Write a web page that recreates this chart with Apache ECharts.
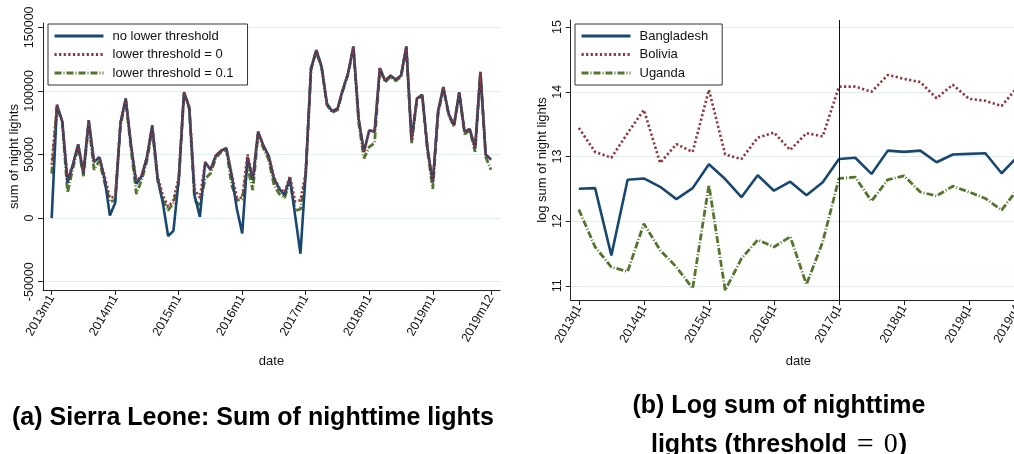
<!DOCTYPE html>
<html>
<head>
<meta charset="utf-8">
<title>nighttime lights</title>
<script src="https://cdn.jsdelivr.net/npm/echarts@6/dist/echarts.min.js"></script>
<style>
html,body{margin:0;padding:0;background:#fff}
#chart{width:1014px;height:454px}
</style>
</head>
<body>
<div id="chart"></div>
<script>
// (a) Sierra Leone, monthly 2013m1 - 2019m12
var noThreshold = [
  0, 89000, 76000, 28000, 42000, 58000, 35000, 77000, 44000, 48000, 31000, 2000,
  12000, 75000, 94000, 57000, 27000, 33000, 48000, 73000, 32000, 12000, -14000, -10000,
  30000, 99000, 87000, 18000, 1000, 44000, 38000, 49000, 53000, 55000, 34000, 7000,
  -12000, 48000, 30000, 68000, 57000, 49000, 31000, 23000, 18000, 32000, 2000, -28000,
  36000, 118000, 132000, 119000, 90000, 84000, 86000, 101000, 114000, 135000, 78000, 52000,
  69000, 68000, 118000, 108000, 112000, 109000, 112000, 135000, 61000, 94000, 97000, 55000,
  28000, 84000, 103000, 82000, 73000, 99000, 68000, 70000, 55000, 115000, 50000, 46000
];
var threshold0 = [
  42000, 89000, 76000, 31000, 42000, 58000, 37000, 77000, 45000, 48000, 33000, 16000,
  17000, 75000, 94000, 57000, 29000, 34000, 48000, 73000, 33000, 18000, 9000, 14000,
  32000, 99000, 87000, 23000, 16000, 44000, 38000, 49000, 53000, 55000, 35000, 16000,
  16000, 50000, 32000, 68000, 57000, 49000, 32000, 24000, 20000, 33000, 13000, 14000,
  36000, 118000, 132000, 119000, 90000, 84000, 86000, 101000, 114000, 135000, 78000, 52000,
  69000, 68000, 118000, 108000, 112000, 109000, 112000, 135000, 61000, 94000, 97000, 55000,
  28000, 84000, 103000, 82000, 73000, 99000, 68000, 70000, 55000, 115000, 50000, 46000
];
var threshold01 = [
  35000, 88000, 75000, 20000, 39000, 56000, 33000, 74000, 38000, 45000, 28000, 13000,
  14000, 73000, 92000, 54000, 19000, 30000, 45000, 70000, 30000, 14000, 6000, 12000,
  28000, 98000, 86000, 14000, 10000, 31000, 35000, 47000, 52000, 54000, 26000, 14000,
  15000, 40000, 22000, 66000, 55000, 46000, 26000, 19000, 16000, 29000, 6000, 7000,
  34000, 117000, 131000, 118000, 89000, 83000, 85000, 100000, 113000, 134000, 75000, 47000,
  56000, 59000, 117000, 107000, 111000, 108000, 111000, 134000, 59000, 93000, 96000, 53000,
  23000, 82000, 102000, 81000, 72000, 98000, 66000, 69000, 52000, 114000, 48000, 38000
];
var monthTicks = [0, 12, 24, 36, 48, 60, 72, 83];
var monthTickLabels = ['2013m1', '2014m1', '2015m1', '2016m1', '2017m1', '2018m1', '2019m1', '2019m12'];
var sumTicks = [-50000, 0, 50000, 100000, 150000];

// (b) log sum, quarterly 2013q1 - 2019q4
var bangladesh = [12.50, 12.51, 11.47, 12.64, 12.66, 12.53, 12.34, 12.51, 12.88, 12.65, 12.37, 12.71, 12.47, 12.61,
  12.40, 12.60, 12.96, 12.98, 12.73, 13.09, 13.07, 13.09, 12.91, 13.03, 13.04, 13.05, 12.74, 13.00];
var bolivia = [13.44, 13.07, 12.98, 13.36, 13.72, 12.90, 13.19, 13.07, 14.03, 13.03, 12.96, 13.29, 13.37, 13.10,
  13.36, 13.31, 14.08, 14.08, 14.00, 14.26, 14.20, 14.15, 13.90, 14.11, 13.89, 13.86, 13.78, 14.08];
var uganda = [12.18, 11.60, 11.29, 11.22, 11.96, 11.55, 11.29, 10.96, 12.56, 10.93, 11.42, 11.71, 11.60, 11.76,
  11.02, 11.68, 12.66, 12.68, 12.31, 12.64, 12.70, 12.45, 12.39, 12.54, 12.45, 12.35, 12.17, 12.50];
var quarterTicks = [0, 4, 8, 12, 16, 20, 24, 27];
var quarterTickLabels = ['2013q1', '2014q1', '2015q1', '2016q1', '2017q1', '2018q1', '2019q1', '2019q4'];
var logTicks = [11, 12, 13, 14, 15];
var breakQuarter = 16;

var NAVY = '#1a476f', MAROON = '#90353b', GREEN = '#55752f';
var FONT = '"Liberation Sans", Arial, Helvetica, sans-serif';
var AXIS = '#222', GRID = '#e3ecef';

function pairs(arr) {
  return arr.map(function (v, i) { return [i, v]; });
}
function tickLabel(ticks, labels) {
  return function (v) {
    var k = ticks.indexOf(Math.round(v));
    return k < 0 ? '' : labels[k];
  };
}

function xAxisOpt(idx, min, max, ticks, labels, nameGap) {
  return {
    type: 'value', gridIndex: idx, min: min, max: max,
    name: 'date', nameLocation: 'middle', nameGap: nameGap,
    nameTextStyle: { fontFamily: FONT, fontSize: 13, color: '#111' },
    axisLine: { show: true, onZero: false, lineStyle: { color: AXIS, width: 1 } },
    axisTick: { show: true, length: 5, customValues: ticks, lineStyle: { color: AXIS } },
    axisLabel: {
      customValues: ticks, rotate: 60, margin: 6, hideOverlap: false,
      fontFamily: FONT, fontSize: 12.5, color: '#111',
      formatter: tickLabel(ticks, labels)
    },
    splitLine: { show: false }
  };
}
function yAxisOpt(idx, min, max, ticks, name) {
  return {
    type: 'value', gridIndex: idx, min: min, max: max,
    name: name, nameLocation: 'middle', nameRotate: 90, nameGap: 22,
    nameTextStyle: { fontFamily: FONT, fontSize: 13, color: '#111' },
    axisLine: { show: true, onZero: false, lineStyle: { color: AXIS, width: 1 } },
    axisTick: { show: true, length: 5, customValues: ticks, lineStyle: { color: AXIS } },
    axisLabel: {
      customValues: ticks, rotate: 90, margin: 7,
      fontFamily: FONT, fontSize: 12.5, color: '#111',
      formatter: function (v) { return String(v); }
    },
    splitLine: { show: true, lineStyle: { color: GRID, width: 1 } }
  };
}
function legendOpt(names, left) {
  return {
    data: names, orient: 'vertical', left: left, top: 24,
    itemWidth: 49, itemHeight: 14, itemGap: 4.5,
    itemStyle: { opacity: 0 },
    lineStyle: { width: 3 },
    padding: [5, 14, 5, 5],
    borderColor: '#333', borderWidth: 1, backgroundColor: '#fff',
    textStyle: { fontFamily: FONT, fontSize: 13, color: '#111', lineHeight: 14, padding: [0, 0, 0, 4] }
  };
}

var solid = { color: NAVY, width: 2.6, type: 'solid' };
var dotted = { color: MAROON, width: 2.6, type: [2.2, 2.4], cap: 'butt' };
var dashDot = { color: GREEN, width: 2.8, type: [7, 2, 1, 2], cap: 'butt' };

function lineSeries(name, data, xi, style, z) {
  return {
    name: name, type: 'line', xAxisIndex: xi, yAxisIndex: xi,
    data: pairs(data), symbol: 'none', z: z, color: style.color,
    lineStyle: style, emphasis: { disabled: true }, animation: false
  };
}

var chart = echarts.init(document.getElementById('chart'));
var option = {
  backgroundColor: '#fff',
  animation: false,
  grid: [
    { left: 43, top: 23, width: 457, height: 267, outerBoundsMode: 'none', containLabel: false },
    { left: 570.7, top: 20, width: 455.3, height: 280, outerBoundsMode: 'none', containLabel: false }
  ],
  xAxis: [
    xAxisOpt(0, -1.64, 84.7, monthTicks, monthTickLabels, 65),
    xAxisOpt(1, -0.5, 27.5, quarterTicks, quarterTickLabels, 55)
  ],
  yAxis: [
    yAxisOpt(0, -56500, 153400, sumTicks, 'sum of night lights'),
    yAxisOpt(1, 10.78, 15.11, logTicks, 'log sum of night lights')
  ],
  legend: [
    legendOpt(['no lower threshold', 'lower threshold = 0', 'lower threshold = 0.1'], 48),
    legendOpt(['Bangladesh', 'Bolivia', 'Uganda'], 575)
  ],
  series: [
    lineSeries('no lower threshold', noThreshold, 0, solid, 3),
    lineSeries('lower threshold = 0', threshold0, 0, dotted, 4),
    lineSeries('lower threshold = 0.1', threshold01, 0, dashDot, 2),
    (function () {
      var s = lineSeries('Bangladesh', bangladesh, 1, solid, 3);
      s.markLine = {
        silent: true, symbol: 'none', label: { show: false },
        lineStyle: { color: '#111', width: 1, type: 'solid' },
        data: [{ xAxis: breakQuarter }]
      };
      return s;
    })(),
    lineSeries('Bolivia', bolivia, 1, dotted, 3),
    lineSeries('Uganda', uganda, 1, dashDot, 3)
  ],
  title: [
    {
      text: '(a) Sierra Leone: Sum of nighttime lights', left: 248, top: 401, textAlign: 'center',
      textStyle: { fontFamily: FONT, fontSize: 25, fontWeight: 'bold', color: '#000' }
    },
    {
      text: '(b) Log sum of nighttime', left: 774, top: 389, textAlign: 'center',
      textStyle: { fontFamily: FONT, fontSize: 25, fontWeight: 'bold', color: '#000' }
    },
    {
      text: '{b|lights (threshold}{eq|=}{m|0}{b|)}', left: 774, top: 425, textAlign: 'center',
      textStyle: {
        rich: {
          b: { fontFamily: FONT, fontSize: 25, fontWeight: 'bold', color: '#000' },
          eq: { fontFamily: '"Liberation Serif", "DejaVu Serif", serif', fontSize: 30, fontWeight: 'normal', color: '#000', padding: [0, 10, 0, 10] },
          m: { fontFamily: '"Liberation Serif", "DejaVu Serif", serif', fontSize: 28, fontWeight: 'normal', color: '#000', padding: [0, 1, 0, 0] }
        }
      }
    }
  ]
};
chart.setOption(option);
</script>
</body>
</html>
